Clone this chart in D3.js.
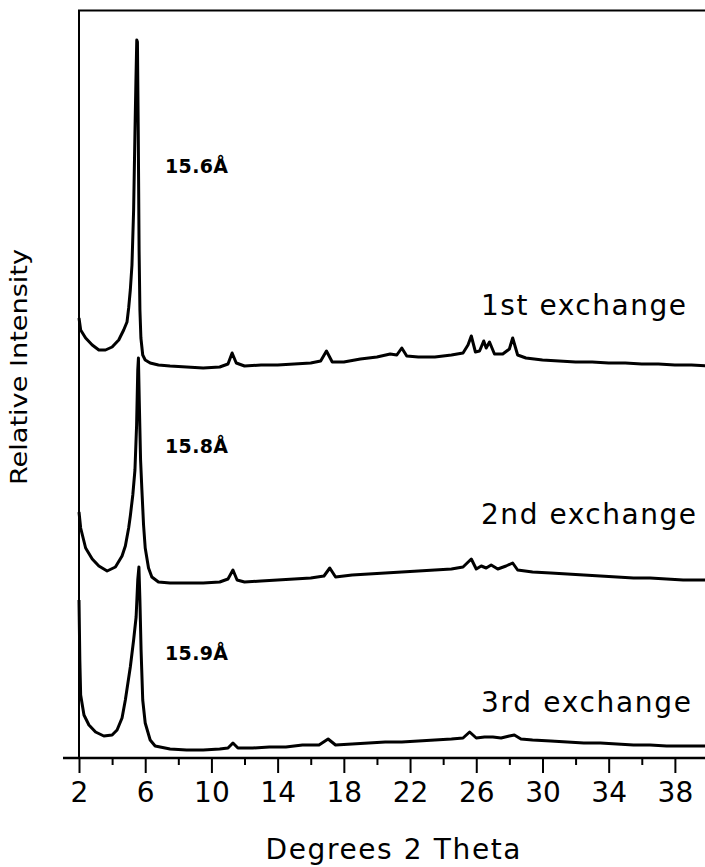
<!DOCTYPE html>
<html>
<head>
<meta charset="utf-8">
<script src="https://cdn.jsdelivr.net/npm/d3@7"></script>
<style>
  body { margin: 0; background: #fff; }
  svg { display: block; }
</style>
</head>
<body>
<script>
var width = 705;
var height = 867;

// 2 theta positions (degrees) and relative intensity
var theta1 = [2.0, 2.1, 2.4, 2.8, 3.2, 3.6, 4.0, 4.4, 4.7, 4.9, 5.0, 5.1, 5.2, 5.3, 5.38, 5.44, 5.49, 5.53, 5.58, 5.63, 5.68, 5.74, 5.85, 6.0, 6.3, 6.8, 7.5, 8.5, 9.5, 10.5, 11.0, 11.25, 11.5, 12, 13, 14, 15, 16, 16.6, 16.95, 17.3, 18, 19, 20, 20.8, 21.2, 21.5, 21.8, 22.5, 23.5, 24.5, 25.2, 25.5, 25.7, 25.95, 26.2, 26.45, 26.6, 26.8, 27.1, 27.6, 28.0, 28.2, 28.5, 29, 30, 31, 32, 33, 34, 35, 36, 37, 38, 39, 40];
var first = [57, 45, 37, 30, 25, 25, 28, 35, 45, 53, 67, 85, 110, 165, 242, 295, 335, 333, 242, 125, 65, 37, 20, 15, 12, 10, 9, 8, 7, 8, 11, 22, 12, 9, 10, 10, 11, 12, 14, 24, 13, 13, 16, 18, 21, 20, 27, 19, 18, 18, 20, 22, 30, 39, 23, 24, 34, 27, 33, 21, 21, 26, 37, 20, 17, 15, 14, 13, 13, 12, 12, 11, 11, 10, 10, 9];

var theta2 = [2.0, 2.1, 2.4, 2.8, 3.2, 3.7, 4.2, 4.6, 4.8, 5.0, 5.1, 5.25, 5.38, 5.48, 5.55, 5.59, 5.64, 5.72, 5.8, 5.9, 6.0, 6.2, 6.4, 6.8, 7.5, 8.5, 9.5, 10.5, 11.0, 11.3, 11.55, 12, 13, 14, 15, 16, 16.8, 17.15, 17.5, 18.5, 19.5, 20.5, 21.5, 22.5, 23.5, 24.5, 25.2, 25.7, 26.0, 26.3, 26.6, 26.9, 27.3, 27.8, 28.2, 28.5, 29.4, 30.5, 31.5, 32.5, 33.5, 34.5, 35.5, 36.5, 37.5, 38.5, 40];
var second = [78, 62, 42, 31, 24, 19, 23, 34, 44, 62, 74, 95, 120, 165, 220, 232, 190, 130, 100, 65, 42, 22, 13, 8, 7, 7, 7, 8, 11, 20, 10, 8, 9, 10, 11, 12, 14, 22, 13, 15, 16, 17, 18, 19, 20, 21, 23, 31, 21, 24, 22, 25, 21, 24, 27, 20, 18, 17, 16, 15, 14, 13, 12, 12, 11, 10, 10];

var theta3 = [2.0, 2.05, 2.1, 2.3, 2.6, 3.0, 3.5, 4.0, 4.3, 4.6, 4.8, 5.1, 5.3, 5.45, 5.55, 5.62, 5.68, 5.75, 5.85, 6.0, 6.3, 6.6, 7.5, 8.5, 9.5, 10.5, 11.0, 11.3, 11.6, 12.5, 13.5, 14.5, 15.5, 16.5, 17.05, 17.5, 18.5, 19.5, 20.5, 21.5, 22.5, 23.5, 24.5, 25.2, 25.6, 26.0, 26.5, 27.0, 27.5, 28.0, 28.3, 28.7, 29.4, 30.5, 31.5, 32.5, 33.5, 34.5, 35.5, 36.5, 37.5, 38.5, 40];
var third = [158, 98, 63, 43, 33, 26, 22, 23, 28, 40, 58, 91, 118, 141, 178, 191, 158, 108, 58, 35, 18, 12, 9, 8, 8, 9, 10, 15, 10, 10, 11, 11, 13, 13, 19, 13, 14, 15, 16, 16, 17, 18, 19, 20, 26, 20, 21, 21, 20, 22, 23, 19, 18, 17, 16, 15, 15, 14, 13, 13, 12, 12, 12];

var seriesNames = ["1st exchange", "2nd exchange", "3rd exchange"];
var spacings = ["15.6Å", "15.8Å", "15.9Å"];
var offsets = [383, 168, 0];   // vertical stacking of the scans
var majorTicks = [2, 6, 10, 14, 18, 22, 26, 30, 34, 38];
var minorTicks = [4, 8, 12, 16, 20, 24, 28, 32, 36, 40];

var x = d3.scaleLinear().domain([2, 40]).range([79, 708]);
var y = d3.scaleLinear().domain([0, 748]).range([758, 10]);

var svg = d3.select("body").append("svg")
  .attr("width", width)
  .attr("height", height);

var scans = [
  {theta: theta1, val: first, off: offsets[0]},
  {theta: theta2, val: second, off: offsets[1]},
  {theta: theta3, val: third, off: offsets[2]}
];

var line = d3.line()
  .x(function(d) { return x(d[0]); })
  .y(function(d) { return y(d[1]); });

svg.selectAll("path.scan")
  .data(scans)
  .enter()
  .append("path")
  .attr("class", "scan")
  .attr("d", function(s) {
    return line(s.theta.map(function(t, i) { return [t, s.val[i] + s.off]; }));
  })
  .attr("fill", "none")
  .attr("stroke", "#000")
  .attr("stroke-width", 3)
  .attr("stroke-linejoin", "round");

// frame: left axis and top line
svg.append("line")
  .attr("x1", 79).attr("x2", 79).attr("y1", 10).attr("y2", 758)
  .attr("stroke", "#000").attr("stroke-width", 2);
svg.append("line")
  .attr("x1", 78).attr("x2", 705).attr("y1", 10.5).attr("y2", 10.5)
  .attr("stroke", "#000").attr("stroke-width", 2);

// x axis
var gx = svg.append("g").attr("transform", "translate(0,758)");
gx.call(d3.axisBottom(x).tickValues(majorTicks).tickSize(15).tickFormat(d3.format("d")));
gx.select(".domain").remove();
gx.selectAll(".tick line").attr("stroke-width", 2);
gx.selectAll(".tick text")
  .attr("y", 44)
  .attr("dy", 0)
  .attr("font-family", "DejaVu Sans")
  .attr("font-size", 28)
  .attr("fill", "#000");

var gm = svg.append("g").attr("transform", "translate(0,758)");
gm.call(d3.axisBottom(x).tickValues(minorTicks).tickSize(7).tickFormat(""));
gm.select(".domain").remove();
gm.selectAll(".tick line").attr("stroke-width", 2);

svg.append("line")
  .attr("x1", 63).attr("x2", 705).attr("y1", 758).attr("y2", 758)
  .attr("stroke", "#000").attr("stroke-width", 2.5);

// axis titles
svg.append("text")
  .attr("x", 393).attr("y", 859)
  .attr("text-anchor", "middle")
  .attr("font-family", "DejaVu Sans")
  .attr("font-size", 28)
  .attr("textLength", 255)
  .text("Degrees 2 Theta");

svg.append("text")
  .attr("transform", "translate(27,367) rotate(-90)")
  .attr("text-anchor", "middle")
  .attr("font-family", "DejaVu Sans")
  .attr("font-size", 23)
  .attr("textLength", 236)
  .attr("lengthAdjust", "spacingAndGlyphs")
  .text("Relative Intensity");

// series labels
var nameY = [315, 524, 712];
var nameLen = [205, 215, 210];
svg.selectAll("text.name")
  .data(seriesNames)
  .enter()
  .append("text")
  .attr("class", "name")
  .attr("x", 481)
  .attr("y", function(d, i) { return nameY[i]; })
  .attr("font-family", "DejaVu Sans")
  .attr("font-size", 28)
  .attr("textLength", function(d, i) { return nameLen[i]; })
  .text(function(d) { return d; });

var spY = [173, 453, 660];
svg.selectAll("text.sp")
  .data(spacings)
  .enter()
  .append("text")
  .attr("class", "sp")
  .attr("x", 165)
  .attr("y", function(d, i) { return spY[i]; })
  .attr("font-family", "DejaVu Sans")
  .attr("font-weight", "bold")
  .attr("font-size", 19)
  .attr("textLength", 63)
  .text(function(d) { return d; });
</script>
</body>
</html>
